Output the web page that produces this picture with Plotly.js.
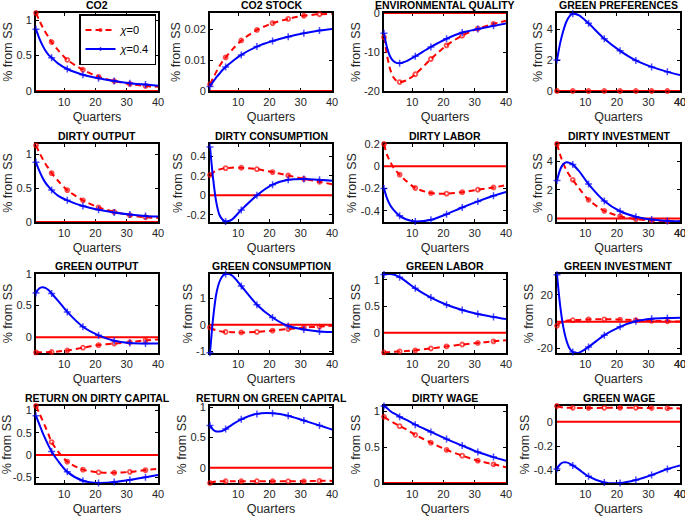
<!DOCTYPE html>
<html>
<head>
<meta charset="utf-8">
<script src="https://cdn.plot.ly/plotly-3.0.1.min.js"></script>
<style>
  html, body { margin: 0; padding: 0; background: #fff; }
  #chart { width: 685px; height: 516px; }
</style>
</head>
<body>
<div id="chart"></div>
<script>
var Q = [1, 2, 3, 4, 5, 6, 8, 11, 16, 21, 26, 31, 36, 40];
// quarters carrying a marker
var MARK_Q = [1, 6, 11, 16, 21, 26, 31, 36];

var TITLES = ['CO2', 'CO2 STOCK', 'ENVIRONMENTAL QUALITY', 'GREEN PREFERENCES',
    'DIRTY OUTPUT', 'DIRTY CONSUMPTION', 'DIRTY LABOR', 'DIRTY INVESTMENT',
    'GREEN OUTPUT', 'GREEN CONSUMPTION', 'GREEN LABOR', 'GREEN INVESTMENT',
    'RETURN ON DIRTY CAPITAL', 'RETURN ON GREEN CAPITAL', 'DIRTY WAGE', 'GREEN WAGE'];

var LEGEND_NAMES = ['<i>\u03c7</i>=0', '<i>\u03c7</i>=0.4'];

// chi = 0 (red) and chi = 0.4 (blue), % from SS
var co2_0 = [1.1, 1.0, 0.91, 0.83, 0.76, 0.69, 0.58, 0.44, 0.30, 0.20, 0.14, 0.10, 0.07, 0.06];
var co2_4 = [0.87, 0.75, 0.65, 0.57, 0.51, 0.47, 0.39, 0.31, 0.23, 0.18, 0.14, 0.11, 0.09, 0.075];
var stock_0 = [0.0022, 0.0042, 0.0062, 0.008, 0.0096, 0.0109, 0.0133, 0.0164, 0.0198, 0.022, 0.0234, 0.0244, 0.0249, 0.025];
var stock_4 = [0.0015, 0.003, 0.0044, 0.0056, 0.0068, 0.0078, 0.0095, 0.0117, 0.0144, 0.0162, 0.0176, 0.0187, 0.0196, 0.0201];
var envq_0 = [-6.2, -11, -14.5, -16.5, -17.4, -17.7, -17.3, -15.7, -11.8, -8.3, -5.8, -4.0, -2.8, -2.0];
var envq_4 = [-5.2, -9, -11.2, -12.3, -12.8, -12.9, -12.4, -11.1, -8.7, -6.6, -5.0, -4.1, -3.3, -2.7];
var pref_0 = [0, 0, 0, 0, 0, 0, 0, 0, 0, 0, 0, 0, 0, 0];
var pref_4 = [2.0, 3.1, 3.9, 4.5, 4.85, 5.0, 4.9, 4.38, 3.38, 2.6, 1.98, 1.56, 1.24, 1.03];

var dout_0 = [1.13, 1.03, 0.94, 0.86, 0.79, 0.72, 0.61, 0.47, 0.32, 0.215, 0.15, 0.1, 0.07, 0.06];
var dout_4 = [0.88, 0.76, 0.66, 0.58, 0.52, 0.47, 0.39, 0.32, 0.235, 0.18, 0.14, 0.11, 0.09, 0.08];
var dcons_0 = [0.21, 0.235, 0.255, 0.268, 0.276, 0.281, 0.286, 0.285, 0.27, 0.24, 0.205, 0.17, 0.14, 0.115];
var dcons_4 = [0.5, 0.17, -0.07, -0.2, -0.25, -0.27, -0.25, -0.15, 0.0, 0.11, 0.16, 0.168, 0.16, 0.15];
var dlab_0 = [0.2, 0.1, 0.04, -0.01, -0.045, -0.075, -0.13, -0.195, -0.24, -0.245, -0.232, -0.21, -0.19, -0.17];
var dlab_4 = [-0.2, -0.29, -0.35, -0.39, -0.42, -0.445, -0.475, -0.495, -0.48, -0.43, -0.37, -0.315, -0.265, -0.23];
var dinv_0 = [5.2, 4.45, 3.85, 3.35, 3.0, 2.7, 2.1, 1.3, 0.53, 0.15, -0.05, -0.15, -0.2, -0.2];
var dinv_4 = [2.65, 3.4, 3.8, 3.93, 3.88, 3.76, 3.3, 2.4, 1.22, 0.5, 0.12, -0.08, -0.18, -0.2];

var gout_0 = [-0.24, -0.24, -0.24, -0.238, -0.236, -0.234, -0.226, -0.21, -0.166, -0.125, -0.1, -0.08, -0.05, -0.035];
var gout_4 = [0.7, 0.77, 0.79, 0.78, 0.745, 0.69, 0.58, 0.4, 0.165, 0.03, -0.055, -0.09, -0.1, -0.1];
var gcons_0 = [-0.1, -0.17, -0.21, -0.24, -0.26, -0.27, -0.28, -0.29, -0.27, -0.22, -0.16, -0.11, -0.07, -0.04];
var gcons_4 = [-1.05, 0.25, 1.15, 1.6, 1.82, 1.9, 1.85, 1.45, 0.75, 0.27, -0.05, -0.18, -0.25, -0.27];
var glab_0 = [-0.37, -0.366, -0.362, -0.358, -0.354, -0.35, -0.344, -0.33, -0.295, -0.255, -0.22, -0.19, -0.16, -0.14];
var glab_4 = [1.1, 1.11, 1.11, 1.1, 1.08, 1.05, 0.97, 0.84, 0.665, 0.53, 0.43, 0.355, 0.3, 0.26];
var ginv_0 = [-3, -0.8, 0.3, 0.8, 1.0, 1.1, 1.3, 1.7, 1.8, 1.6, 1.2, 0.7, 0.3, 0.1];
var ginv_4 = [35, 12, -4, -14, -20, -22.6, -23, -18.8, -10, -3.8, 0.3, 2.2, 2.8, 3.0];

var rdk_0 = [1.1, 0.95, 0.79, 0.63, 0.46, 0.29, 0.08, -0.15, -0.33, -0.39, -0.4, -0.38, -0.34, -0.31];
var rdk_4 = [0.88, 0.7, 0.52, 0.36, 0.21, 0.08, -0.13, -0.38, -0.58, -0.63, -0.61, -0.56, -0.5, -0.45];
var rgk_0 = [-0.25, -0.235, -0.225, -0.22, -0.22, -0.22, -0.22, -0.22, -0.22, -0.22, -0.222, -0.222, -0.215, -0.215];
var rgk_4 = [0.7, 0.63, 0.6, 0.6, 0.61, 0.64, 0.71, 0.8, 0.89, 0.9, 0.86, 0.78, 0.7, 0.63];
var dwage_0 = [0.92, 0.89, 0.86, 0.84, 0.815, 0.79, 0.75, 0.67, 0.56, 0.46, 0.38, 0.31, 0.26, 0.22];
var dwage_4 = [1.07, 1.04, 1.0, 0.97, 0.95, 0.92, 0.88, 0.81, 0.71, 0.61, 0.52, 0.43, 0.36, 0.31];
var gwage_0 = [0.13, 0.122, 0.118, 0.116, 0.115, 0.115, 0.114, 0.113, 0.115, 0.115, 0.115, 0.113, 0.112, 0.11];
var gwage_4 = [-0.39, -0.35, -0.335, -0.335, -0.345, -0.36, -0.395, -0.45, -0.5, -0.505, -0.48, -0.44, -0.39, -0.36];

var SERIES_0 = [co2_0, stock_0, envq_0, pref_0, dout_0, dcons_0, dlab_0, dinv_0,
    gout_0, gcons_0, glab_0, ginv_0, rdk_0, rgk_0, dwage_0, gwage_0];
var SERIES_4 = [co2_4, stock_4, envq_4, pref_4, dout_4, dcons_4, dlab_4, dinv_4,
    gout_4, gcons_4, glab_4, ginv_4, rdk_4, rgk_4, dwage_4, gwage_4];

// y tick labels per panel
var YTICKS = [
    [0, 0.5, 1], [0, 0.01, 0.02], [-20, -10, 0], [0, 2, 4],
    [0, 0.5, 1], [-0.2, 0, 0.2, 0.4], [-0.4, -0.2, 0, 0.2], [0, 2, 4],
    [0, 0.5, 1], [-1, 0, 1], [0, 0.5, 1], [-20, 0, 20],
    [-0.5, 0, 0.5, 1], [0, 0.5, 1], [0, 0.5, 1], [-0.4, -0.2, 0]
];
var XTICKS = [10, 20, 30, 40];
var SS = [0, 0];   // steady state line

// axis limits as in the figure
var YLIM = [
    [0, 1.1], [0, 0.0253], [-20, 0], [0, 5.05],
    [0, 1.15], [-0.275, 0.53], [-0.5, 0.2], [-0.25, 5.2],
    [-0.25, 1], [-1.06, 1.9], [-0.38, 1.11], [-23.3, 35.5],
    [-0.63, 1.1], [-0.25, 1.02], [0, 1.07], [-0.505, 0.13]
];
var XLIM = [1, 40];

var W = 685, H = 516;
var colLeft = [36, 210, 384, 557], colRight = [158, 332, 506, 680];
var rowTop = [13, 144, 274, 406], rowBottom = [91, 222, 353, 483];
var FONT = '"Liberation Sans", Arial, sans-serif';

var traces = [];
var layout = {
    width: W,
    height: H,
    margin: {l: 0, r: 0, t: 0, b: 0},
    paper_bgcolor: 'white',
    plot_bgcolor: 'white',
    font: {family: FONT, color: '#262626', size: 11},
    showlegend: true,
    legend: {
        x: 79 / W, y: 1 - 14 / H, xanchor: 'left', yanchor: 'top',
        bgcolor: 'white', bordercolor: 'black', borderwidth: 1.5,
        font: {size: 11, color: 'black'}, tracegroupgap: 0, itemwidth: 30
    },
    annotations: []
};

var markerSizes = Q.map(function (q) { return MARK_Q.indexOf(q) >= 0 ? 1 : 0; });

for (let i = 0; i < 16; i++) {
    const row = Math.floor(i / 4), col = i % 4;
    const sfx = i === 0 ? '' : String(i + 1);
    const xa = 'x' + sfx, ya = 'y' + sfx;

    traces.push({
        x: XLIM, y: SS, xaxis: xa, yaxis: ya, mode: 'lines',
        line: {color: '#ff0000', width: 2}, showlegend: false, hoverinfo: 'skip'
    });
    traces.push({
        x: Q, y: SERIES_0[i], xaxis: xa, yaxis: ya, mode: 'lines+markers',
        name: LEGEND_NAMES[0], showlegend: i === 0, cliponaxis: false,
        line: {color: '#ff0000', width: 2, dash: '6px,4px', shape: 'spline', smoothing: 0.8},
        marker: {symbol: 'circle-open', size: markerSizes.map(function (s) { return s * 4; }),
            color: '#ff0000', line: {width: 1.8, color: '#ff0000'}}
    });
    traces.push({
        x: Q, y: SERIES_4[i], xaxis: xa, yaxis: ya, mode: 'lines+markers',
        name: LEGEND_NAMES[1], showlegend: i === 0, cliponaxis: false,
        line: {color: '#0000ff', width: 2, shape: 'spline', smoothing: 0.8},
        marker: {symbol: 'cross-thin-open', size: markerSizes.map(function (s) { return s * 5; }),
            color: '#0000ff', line: {width: 1.5, color: '#0000ff'}}
    });

    const common = {
        showline: true, linecolor: 'black', linewidth: 2, mirror: 'ticks',
        ticks: 'inside', ticklen: 3, tickwidth: 1, tickcolor: 'black',
        showgrid: false, zeroline: false, fixedrange: true, layer: 'below traces',
        ticklabeloverflow: 'allow',
        tickfont: {size: 11, color: '#262626'}
    };
    layout['xaxis' + sfx] = Object.assign({}, common, {
        domain: [colLeft[col] / W, colRight[col] / W],
        anchor: ya, range: XLIM,
        tickvals: XTICKS, ticktext: XTICKS.map(String),
        title: {text: 'Quarters', font: {size: 12.5, color: '#262626'}, standoff: 5}
    });
    layout['yaxis' + sfx] = Object.assign({}, common, {
        domain: [1 - rowBottom[row] / H, 1 - rowTop[row] / H],
        anchor: xa, range: YLIM[i],
        tickvals: YTICKS[i], ticktext: YTICKS[i].map(String),
        title: {text: '% from SS', font: {size: 12.5, color: '#262626'}, standoff: 1}
    });
    layout.annotations.push({
        text: TITLES[i], xref: 'paper', yref: 'paper',
        x: (colLeft[col] + colRight[col]) / 2 / W, y: 1 - rowTop[row] / H,
        xanchor: 'center', yanchor: 'bottom', showarrow: false,
        font: {size: 10.5, weight: 'bold', color: 'black'}
    });
    // plotly drops the last x label at the right page edge, put it back
    if (col === 3) {
        const last = XTICKS[XTICKS.length - 1];
        layout.annotations.push({
            text: String(last), xref: xa, yref: ya + ' domain',
            x: last, y: 0, xanchor: 'center', yanchor: 'top', yshift: -3,
            showarrow: false, font: {size: 11, color: '#262626'}
        });
    }
}

Plotly.newPlot('chart', traces, layout, {displayModeBar: false, staticPlot: true});
</script>
</body>
</html>
